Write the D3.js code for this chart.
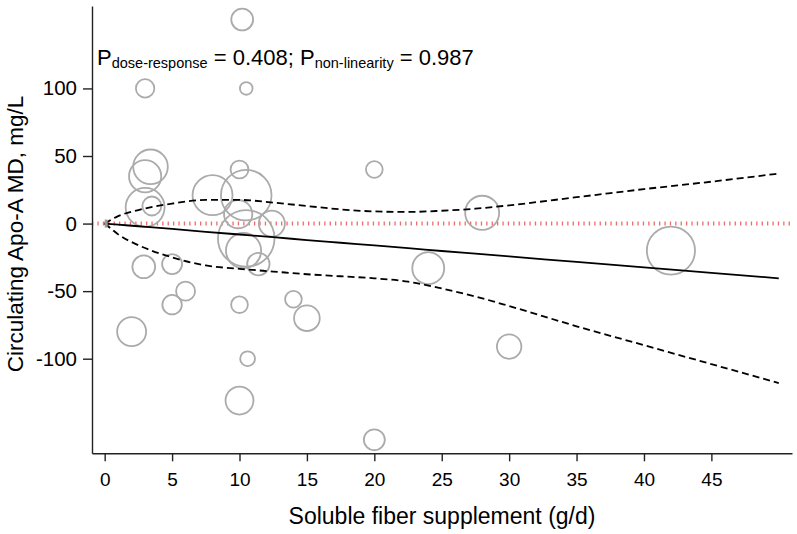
<!DOCTYPE html>
<html><head><meta charset="utf-8">
<script src="https://cdn.jsdelivr.net/npm/d3@7"></script>
<style>body{margin:0;background:#fff}svg{display:block}text{font-family:"Liberation Sans",Arial,sans-serif;fill:#000}</style>
</head><body>
<script>
// Study points: dose (g/d), mean difference (mg/L), weight
const doses   = [10.2, 3.0, 10.5, 20, 3.4, 3.0, 3.0, 3.5, 2.9, 5.0, 6.0, 5.0, 2.0, 10, 10.6, 10, 20, 15, 14, 10, 8, 10.5, 9.9, 12.4, 10.5, 10.3, 11.4, 24, 28, 42, 30];
const effects = [151, 100, 100, 40, 42, 35, 12, 13, -32, -30, -50, -60, -80, -60, -100, -131, -160, -70, -56, 40, 21, 21, 7, 0, -11, -20, -30, -33, 8, -20, -91];
const weights = [12, 8.5, 4, 7, 30, 26, 38, 9, 13, 10, 9, 9.5, 21, 7, 5.5, 19.5, 11, 16.5, 7, 8, 40, 64, 20, 17, 80, 31, 12.5, 25.5, 29, 58, 15];

// Fitted curve and confidence band
const curveX = [0, 0.5, 1, 2.5, 5, 7.5, 10, 12.5, 15, 17.5, 20, 22.5, 25, 27.5, 30, 35, 40, 45, 50];
const fitY   = [0, -0.4, -0.8, -2, -4, -6.1, -8.1, -10.1, -12.2, -14.2, -16.2, -18.2, -20.3, -22.3, -24.3, -28.4, -32.4, -36.5, -40.5];
const upperY = [0, 3, 5.5, 10, 14.8, 17.5, 17.5, 15.5, 13, 10.5, 9, 8.6, 9.5, 11, 13.5, 19.5, 25.5, 31, 37];
const lowerY = [0, -4, -8, -16, -25, -31, -33.5, -35.5, -37.5, -39, -40.5, -43, -48, -54, -61, -76, -90, -104, -118];

const xTicks = [0, 5, 10, 15, 20, 25, 30, 35, 40, 45];
const yTicks = [-100, -50, 0, 50, 100];
const xTitle = "Soluble fiber supplement (g/d)";
const yTitle = "Circulating Apo-A MD, mg/L";

const W = 797, H = 534;
const svg = d3.select("body").append("svg").attr("width", W).attr("height", H);

const x = d3.scaleLinear().domain([-0.94, 50.98]).range([92, 792]);
const y = d3.scaleLinear().domain([-170, 161]).range([453.3, 6]);
const r = d3.scaleSqrt().domain([0, 100]).range([0, 31.6]);

// reference line at 0
svg.append("line")
  .attr("x1", x.range()[0]).attr("x2", x.range()[1])
  .attr("y1", y(0)).attr("y2", y(0))
  .attr("stroke", "#f26a6a").attr("stroke-width", 4)
  .attr("stroke-dasharray", "1.3,4.1");

// circles
svg.append("g").selectAll("circle").data(doses).join("circle")
  .attr("cx", (d) => x(d))
  .attr("cy", (d, i) => y(effects[i]))
  .attr("r", (d, i) => r(weights[i]))
  .attr("fill", "none").attr("stroke", "#ababab").attr("stroke-width", 1.8);

const line = d3.line().x((d) => x(d[0])).y((d) => y(d[1])).curve(d3.curveMonotoneX);
const mk = (arr) => curveX.map((v, i) => [v, arr[i]]);

svg.append("path").attr("d", line(mk(fitY))).attr("fill", "none")
  .attr("stroke", "#000").attr("stroke-width", 1.8);
[upperY, lowerY].forEach((arr) => {
  svg.append("path").attr("d", line(mk(arr))).attr("fill", "none")
    .attr("stroke", "#000").attr("stroke-width", 1.8).attr("stroke-dasharray", "7,4");
});

// small reference marker at origin
svg.append("rect").attr("x", x(0)).attr("y", y(0) - 4).attr("width", 3).attr("height", 8).attr("fill", "#999");

// axes
const fmt = (d) => String(d);
const gx = svg.append("g").attr("transform", `translate(0,${y.range()[0]})`)
  .call(d3.axisBottom(x).tickValues(xTicks).tickFormat(fmt).tickSizeOuter(0).tickSizeInner(8).tickPadding(11));
gx.selectAll("text").attr("font-size", 19).attr("font-family", "Liberation Sans, Arial, sans-serif");
const gy = svg.append("g").attr("transform", `translate(${x.range()[0]},0)`)
  .call(d3.axisLeft(y).tickValues(yTicks).tickFormat(fmt).tickSizeOuter(0).tickSizeInner(9).tickPadding(6));
gy.selectAll("text").attr("font-size", 20.5).attr("font-family", "Liberation Sans, Arial, sans-serif");
[gx, gy].forEach((g) => {
  g.select(".domain").attr("stroke", "#222").attr("stroke-width", 1.4);
  g.selectAll(".tick line").attr("stroke", "#222").attr("stroke-width", 1.4);
});

// titles
svg.append("text").attr("x", 442).attr("y", 524).attr("text-anchor", "middle")
  .attr("font-size", 23).text(xTitle);
svg.append("text").attr("transform", "translate(23,234) rotate(-90)").attr("text-anchor", "middle")
  .attr("font-size", 22.5).text(yTitle);

// P-value annotation
const t = svg.append("text").attr("x", 97).attr("y", 65).attr("font-size", 22);
t.append("tspan").text("P");
t.append("tspan").attr("font-size", 14.5).attr("dy", 3).text("dose-response");
t.append("tspan").attr("dy", -3).text(" = 0.408; P");
t.append("tspan").attr("font-size", 14.5).attr("dy", 3).text("non-linearity");
t.append("tspan").attr("dy", -3).text(" = 0.987");
</script>
</body></html>
